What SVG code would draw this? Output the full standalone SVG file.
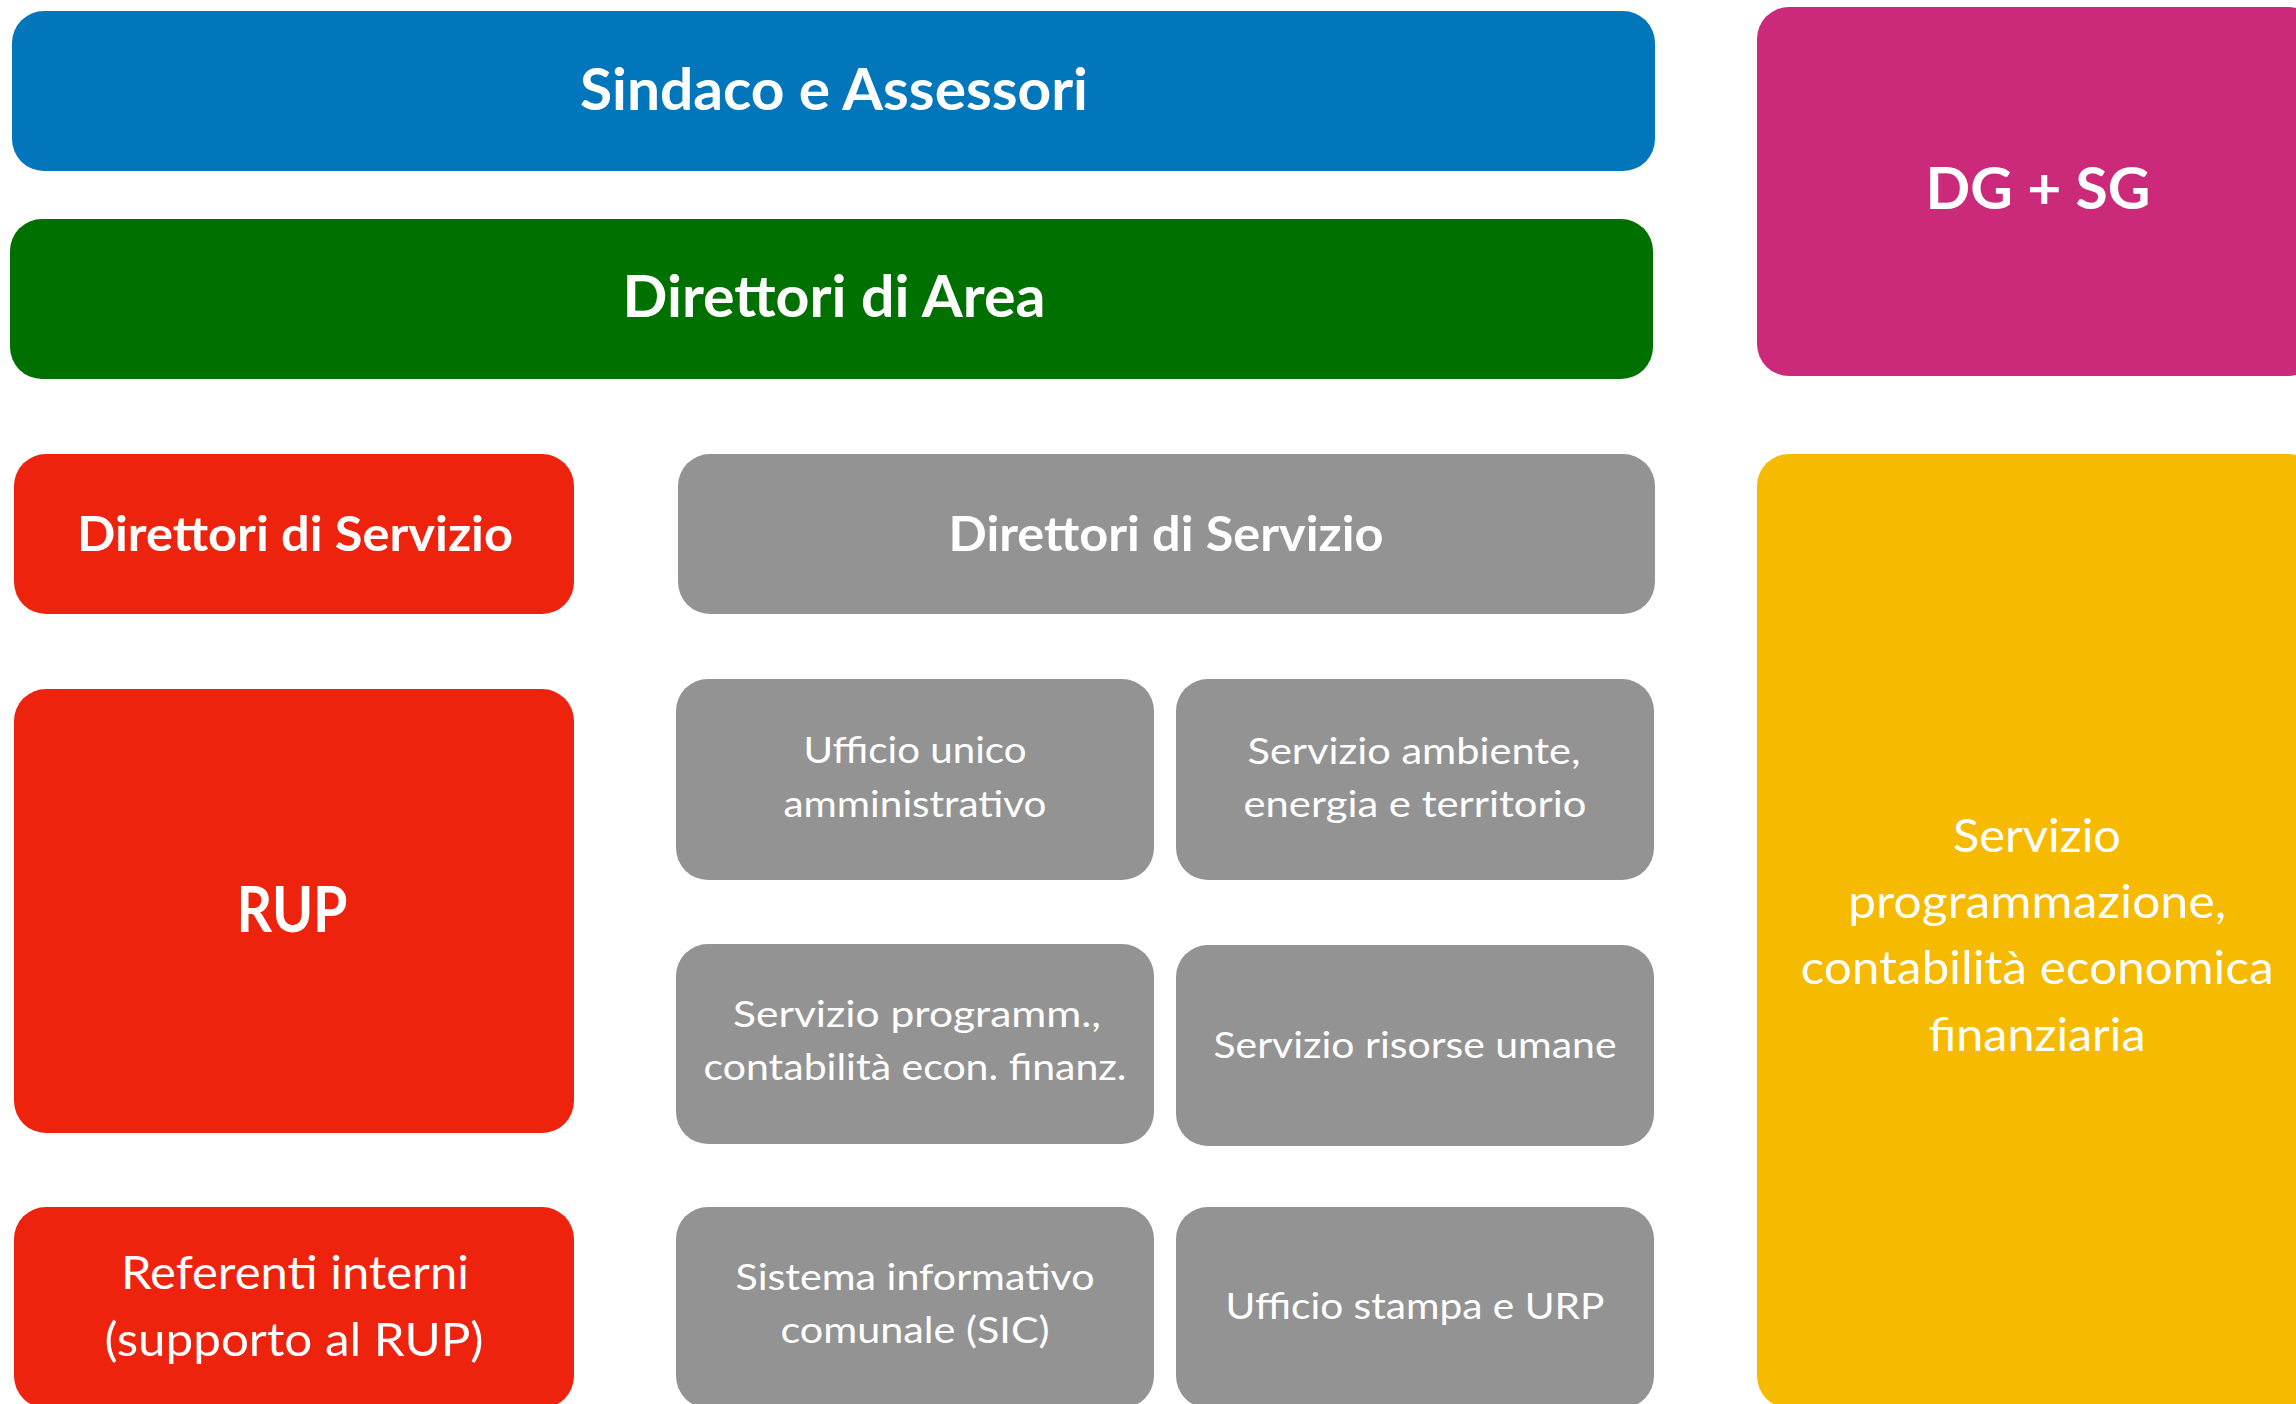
<svg xmlns="http://www.w3.org/2000/svg" width="2296" height="1404" viewBox="0 0 2296 1404">
<style>
.box{rx:32px;ry:32px}
.blue{fill:#0176BA}
.green{fill:#007000}
.mag{fill:#CB2A7B}
.red{fill:#EE230E}
.grey{fill:#939393}
.yellow{fill:#F6BB00}
text{font-family:Lato,"Open Sans","Liberation Sans",sans-serif;fill:#FFFFFF;text-anchor:middle}
.t1{font-size:57px;font-weight:700}
.t2{font-size:48px;font-weight:700}
.t3{font-size:47px;font-weight:400}
.t4{font-size:37px;font-weight:400}
</style>
<rect width="2296" height="1404" fill="#FFFFFF"/>
<g id="connectors"/>
<g id="sindaco"><rect class="box blue" x="12" y="11" width="1643" height="160"/><text class="t1" x="834" y="110" textLength="508" lengthAdjust="spacingAndGlyphs">Sindaco e Assessori</text></g>
<g id="direttori-area"><rect class="box green" x="10" y="219" width="1643" height="160"/><text class="t1" x="834" y="317" textLength="423" lengthAdjust="spacingAndGlyphs">Direttori di Area</text></g>
<g id="dg-sg"><rect class="box mag" x="1757" y="7" width="563" height="369"/><text class="t1" x="2038" y="209" textLength="225" lengthAdjust="spacingAndGlyphs">DG + SG</text></g>
<g id="direttori-servizio-red"><rect class="box red" x="14" y="454" width="560" height="160"/><text class="t2" x="295" y="551" textLength="436" lengthAdjust="spacingAndGlyphs">Direttori di Servizio</text></g>
<g id="direttori-servizio-grey"><rect class="box grey" x="678" y="454" width="977" height="160"/><text class="t2" x="1166" y="551" textLength="435" lengthAdjust="spacingAndGlyphs">Direttori di Servizio</text></g>
<g id="rup"><rect class="box red" x="14" y="689" width="560" height="444"/><text x="292" y="932" style="font-size:63px;font-weight:700" textLength="111" lengthAdjust="spacingAndGlyphs">RUP</text></g>
<g id="referenti"><rect class="box red" x="14" y="1207" width="560" height="201"/><text class="t3" x="295" y="1289" textLength="348" lengthAdjust="spacingAndGlyphs">Referenti interni</text><text class="t3" x="294" y="1356" textLength="379" lengthAdjust="spacingAndGlyphs">(supporto al RUP)</text></g>
<g id="ufficio-unico"><rect class="box grey" x="676" y="679" width="478" height="201"/><text class="t4" x="915" y="763" textLength="223" lengthAdjust="spacingAndGlyphs">Ufficio unico</text><text class="t4" x="915" y="817" textLength="263" lengthAdjust="spacingAndGlyphs">amministrativo</text></g>
<g id="servizio-ambiente"><rect class="box grey" x="1176" y="679" width="478" height="201"/><text class="t4" x="1414" y="764" textLength="333" lengthAdjust="spacingAndGlyphs">Servizio ambiente,</text><text class="t4" x="1415" y="817" textLength="343" lengthAdjust="spacingAndGlyphs">energia e territorio</text></g>
<g id="servizio-programm"><rect class="box grey" x="676" y="944" width="478" height="200"/><text class="t4" x="917" y="1027" textLength="368" lengthAdjust="spacingAndGlyphs">Servizio programm.,</text><text class="t4" x="915" y="1080" textLength="423" lengthAdjust="spacingAndGlyphs">contabilità econ. finanz.</text></g>
<g id="servizio-risorse"><rect class="box grey" x="1176" y="945" width="478" height="201"/><text class="t4" x="1415" y="1058" textLength="403" lengthAdjust="spacingAndGlyphs">Servizio risorse umane</text></g>
<g id="sistema-informativo"><rect class="box grey" x="676" y="1207" width="478" height="201"/><text class="t4" x="915" y="1290" textLength="359" lengthAdjust="spacingAndGlyphs">Sistema informativo</text><text class="t4" x="915" y="1343" textLength="269" lengthAdjust="spacingAndGlyphs">comunale (SIC)</text></g>
<g id="ufficio-stampa"><rect class="box grey" x="1176" y="1207" width="478" height="201"/><text class="t4" x="1415" y="1319" textLength="379" lengthAdjust="spacingAndGlyphs">Ufficio stampa e URP</text></g>
<g id="servizio-programmazione"><rect class="box yellow" x="1757" y="454" width="563" height="954"/><text class="t3" x="2037" y="852" textLength="168" lengthAdjust="spacingAndGlyphs">Servizio</text><text class="t3" x="2037" y="918" textLength="378" lengthAdjust="spacingAndGlyphs">programmazione,</text><text class="t3" x="2037" y="984" textLength="473" lengthAdjust="spacingAndGlyphs">contabilità economica</text><text class="t3" x="2037" y="1051" textLength="217" lengthAdjust="spacingAndGlyphs">finanziaria</text></g>
</svg>
